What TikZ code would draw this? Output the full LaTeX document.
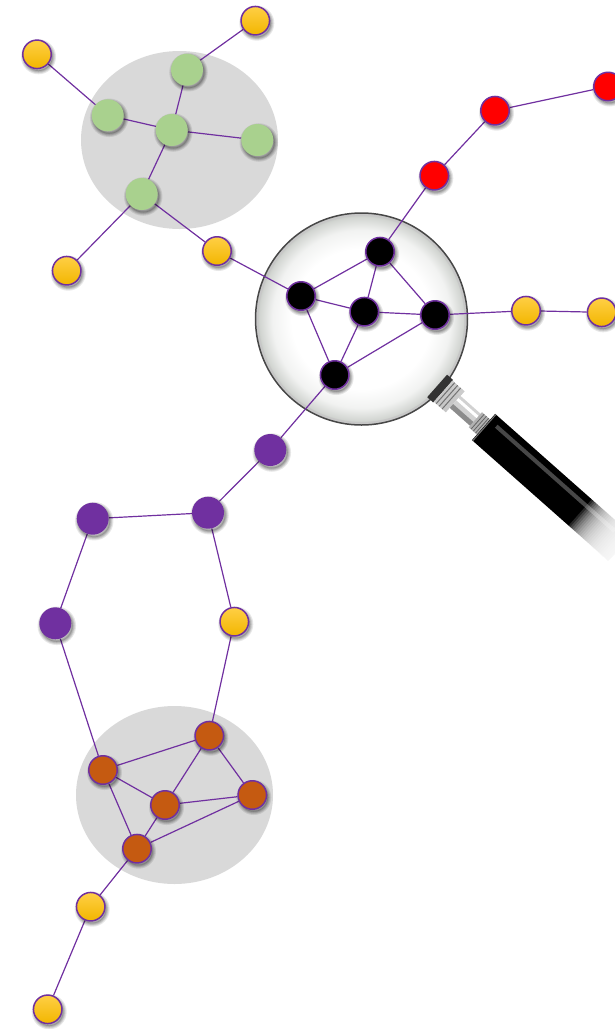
\documentclass[tikz,border=0pt]{standalone}

\definecolor{edgepurple}{HTML}{7030A0}
\definecolor{nodegreen}{HTML}{A9D18E}
\definecolor{nodeorange}{HTML}{C55A11}
\definecolor{nodered}{HTML}{FF0000}
\definecolor{goldtop}{HTML}{FFCF45}
\definecolor{goldbot}{HTML}{F2B600}
\definecolor{clustergray}{HTML}{D9D9D9}
\definecolor{glassgray}{HTML}{B4B9B3}

\pgfdeclarelayer{background}
\pgfsetlayers{background,main}

% glass of the magnifier: clear centre, darker towards the frame
\pgfdeclareradialshading{lensglass}{\pgfpoint{0bp}{0bp}}{%
  color(0bp)=(white); color(16.5bp)=(white); color(21bp)=(glassgray!18);
  color(24bp)=(glassgray!60); color(25bp)=(glassgray!85); color(50bp)=(glassgray!85)}

\tikzset{
  softshade/.style={preaction={draw=black, line width=#1,
      transform canvas={shift={(1.5pt,-2.5pt)}}, opacity=0.09}},
  vertex/.style={circle, inner sep=0pt,
    preaction={fill=black, opacity=0.15, transform canvas={shift={(1.5pt,-2.5pt)}}},
    softshade=1.5pt, softshade=3pt, softshade=4.5pt, softshade=6.5pt},
  ringed/.style={vertex, minimum size=28.5pt, draw=edgepurple, line width=1.5pt},
  solidv/.style={vertex, minimum size=32pt},
  goldv/.style={ringed, top color=goldtop, bottom color=goldbot},
  redv/.style={ringed, fill=nodered},
  blackv/.style={ringed, fill=black},
  orangev/.style={ringed, fill=nodeorange},
  greenv/.style={solidv, fill=nodegreen},
  purplev/.style={solidv, fill=edgepurple},
  link/.style={edgepurple, line width=1.2pt},
  cluster/.style={fill=clustergray},
}

\begin{document}
\begin{tikzpicture}[x=1pt, y=-1pt]
\useasboundingbox (0,0) rectangle (614,1029);

\begin{pgfonlayer}{background}
  % shaded clusters
  \fill[cluster] (179.5,140) ellipse [x radius=98.5, y radius=89];
  \fill[cluster] (174.5,795) ellipse [x radius=98.5, y radius=89];

  % magnifier lens
  \shade[shading=lensglass] (361.5,319) circle [radius=106];
  \draw[black!22, line width=3pt] (361.5,319) circle [radius=104.5];
  \draw[black!72, line width=1.5pt] (361.5,319) circle [radius=106];

  % magnifier handle, drawn along its own axis
  \begin{scope}[shift={(361.5,319)}, rotate=-41.5]
    \fill[black!80] (101,-15) rectangle (109,15);
    \fill[black!22] (109,-14) rectangle (125,14);
    \fill[white!80!black] (109,-14) rectangle (125,-8);
    \foreach \t in {112,116,120}
      \draw[black!55, line width=1pt] (\t,-14) -- (\t,14);
    \fill[black!18] (125,-8) rectangle (154,8);
    \fill[black!45] (125,3) rectangle (154,8);
    \fill[white] (125,-5) rectangle (154,-2);
    \fill[black!30] (152,-10) rectangle (164,10);
    \foreach \t in {155,158,161}
      \draw[black!60, line width=0.8pt] (\t,-10) -- (\t,10);
    \fill[black] (163,-17.5) rectangle (345,17.5);
    \draw[black!55, line width=1pt] (164,-17.5) -- (164,17.5);
    \fill[black!72] (172,-11) rectangle (330,-7);
    % the far end dissolves into the page
    \foreach \i [evaluate=\i as \a using 292+2.2*\i] in {0,...,25}
      \fill[white, opacity=0.15] (\a,-19) rectangle (350,19);
  \end{scope}
\end{pgfonlayer}

% upper cluster
\node[greenv] (g1) at (187,69.7) {};
\node[greenv] (g2) at (107.7,115.3) {};
\node[greenv] (g3) at (171.7,130) {};
\node[greenv] (g4) at (257.3,140) {};
\node[greenv] (g5) at (141.7,194) {};

% magnified core
\node[blackv] (k1) at (380,251.7) {};
\node[blackv] (k2) at (301,296) {};
\node[blackv] (k3) at (364.3,311.7) {};
\node[blackv] (k4) at (435,315) {};
\node[blackv] (k5) at (334.7,375) {};

% red chain
\node[redv] (r1) at (608,86.5) {};
\node[redv] (r2) at (495,110.7) {};
\node[redv] (r3) at (434.3,175.7) {};

% purple path
\node[purplev] (p1) at (270.3,450) {};
\node[purplev] (p2) at (208,512.7) {};
\node[purplev] (p3) at (92.7,518.7) {};
\node[purplev] (p4) at (55.3,623.3) {};

% lower cluster
\node[orangev] (o1) at (209.3,735.7) {};
\node[orangev] (o2) at (103,770) {};
\node[orangev] (o3) at (165,805) {};
\node[orangev] (o4) at (252.3,795) {};
\node[orangev] (o5) at (137,848.7) {};

% yellow leaves
\node[goldv] (y1) at (255.3,20.7) {};
\node[goldv] (y2) at (37,54.3) {};
\node[goldv] (y3) at (66.7,270.7) {};
\node[goldv] (y4) at (217,251) {};
\node[goldv] (y5) at (526,310.7) {};
\node[goldv] (y6) at (601.7,312.3) {};
\node[goldv] (y7) at (234.3,621.7) {};
\node[goldv] (y8) at (90.7,906.7) {};
\node[goldv] (y9) at (47.7,1009.3) {};

\begin{pgfonlayer}{background}
  \draw[link] (y1) -- (g1);
  \draw[link] (y2) -- (g2);
  \draw[link] (g2) -- (g3);
  \draw[link] (g1) -- (g3);
  \draw[link] (g3) -- (g4);
  \draw[link] (g3) -- (g5);
  \draw[link] (g5) -- (y3);
  \draw[link] (g5) -- (y4);
  \draw[link] (y4) -- (k2);
  \draw[link] (k2) -- (k1);
  \draw[link] (k2) -- (k3);
  \draw[link] (k2) -- (k5);
  \draw[link] (k1) -- (k3);
  \draw[link] (k1) -- (k4);
  \draw[link] (k1) -- (r3);
  \draw[link] (k3) -- (k4);
  \draw[link] (k3) -- (k5);
  \draw[link] (k4) -- (k5);
  \draw[link] (k4) -- (y5);
  \draw[link] (y5) -- (y6);
  \draw[link] (r3) -- (r2);
  \draw[link] (r2) -- (r1);
  \draw[link] (k5) -- (p1);
  \draw[link] (p1) -- (p2);
  \draw[link] (p2) -- (p3);
  \draw[link] (p2) -- (y7);
  \draw[link] (p3) -- (p4);
  \draw[link] (p4) -- (o2);
  \draw[link] (y7) -- (o1);
  \draw[link] (o1) -- (o2);
  \draw[link] (o1) -- (o3);
  \draw[link] (o1) -- (o4);
  \draw[link] (o2) -- (o3);
  \draw[link] (o2) -- (o5);
  \draw[link] (o3) -- (o4);
  \draw[link] (o3) -- (o5);
  \draw[link] (o4) -- (o5);
  \draw[link] (o5) -- (y8);
  \draw[link] (y8) -- (y9);
\end{pgfonlayer}
\end{tikzpicture}
\end{document}
